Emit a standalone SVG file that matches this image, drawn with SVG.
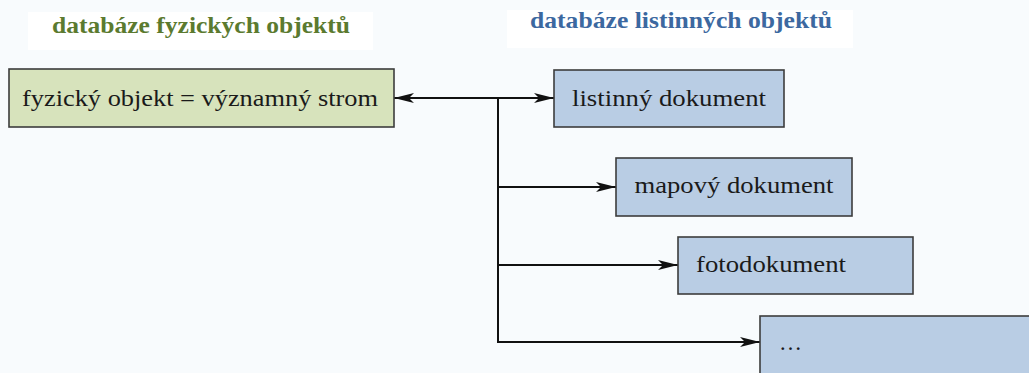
<svg xmlns="http://www.w3.org/2000/svg" width="1029" height="373" viewBox="0 0 1029 373">
<style>
.bg{fill:#f8fbfd}
.tbg{fill:#ffffff}
.title{font-family:"Liberation Serif","DejaVu Serif",serif;font-weight:bold;font-size:23px}
.lbl{font-family:"Liberation Serif","DejaVu Serif",serif;font-size:23px;fill:#1a1a1a}
.green{fill:#d7e3bc;stroke:#3c3c3c;stroke-width:1.6}
.blue{fill:#b9cde4;stroke:#3c3c3c;stroke-width:1.6}
.conn{fill:none;stroke:#111;stroke-width:2}
</style>
<defs>
<marker id="ah" viewBox="0 0 20 10" refX="20" refY="5" markerWidth="20" markerHeight="10" markerUnits="userSpaceOnUse" orient="auto-start-reverse">
<path d="M0,0 L20,5 L0,10 L5,5 Z" fill="#111"/>
</marker>
</defs>
<rect class="bg" x="0" y="0" width="1029" height="373"/>
<g id="title-left">
<rect class="tbg" x="28" y="12" width="345" height="38"/>
<text class="title" x="201" y="33" text-anchor="middle" fill="#5b7a2f" textLength="298" lengthAdjust="spacingAndGlyphs">databáze fyzických objektů</text>
</g>
<g id="title-right">
<rect class="tbg" x="507" y="10" width="346" height="38"/>
<text class="title" x="681" y="28" text-anchor="middle" fill="#3c68a0" textLength="302" lengthAdjust="spacingAndGlyphs">databáze listinných objektů</text>
</g>
<g id="connectors">
<line class="conn" x1="394" y1="98" x2="554" y2="98" marker-start="url(#ah)" marker-end="url(#ah)"/>
<polyline class="conn" points="498,98 498,342 760,342" marker-end="url(#ah)"/>
<line class="conn" x1="498" y1="187" x2="616" y2="187" marker-end="url(#ah)"/>
<line class="conn" x1="498" y1="265" x2="678" y2="265" marker-end="url(#ah)"/>
</g>
<g id="node-fyzicky">
<rect class="green" x="9" y="69" width="385" height="58"/>
<text class="lbl" x="200" y="106" text-anchor="middle" textLength="356" lengthAdjust="spacingAndGlyphs">fyzický objekt = významný strom</text>
</g>
<g id="node-listinny">
<rect class="blue" x="554" y="70" width="230" height="57"/>
<text class="lbl" x="669" y="106" text-anchor="middle" textLength="194" lengthAdjust="spacingAndGlyphs">listinný dokument</text>
</g>
<g id="node-mapovy">
<rect class="blue" x="616" y="158" width="236" height="58"/>
<text class="lbl" x="734" y="193" text-anchor="middle" textLength="199" lengthAdjust="spacingAndGlyphs">mapový dokument</text>
</g>
<g id="node-foto">
<rect class="blue" x="678" y="237" width="235" height="57"/>
<text class="lbl" x="771" y="272" text-anchor="middle" textLength="150" lengthAdjust="spacingAndGlyphs">fotodokument</text>
</g>
<g id="node-dots">
<rect class="blue" x="760" y="316" width="280" height="70"/>
<text class="lbl" x="779" y="350">…</text>
</g>
</svg>
